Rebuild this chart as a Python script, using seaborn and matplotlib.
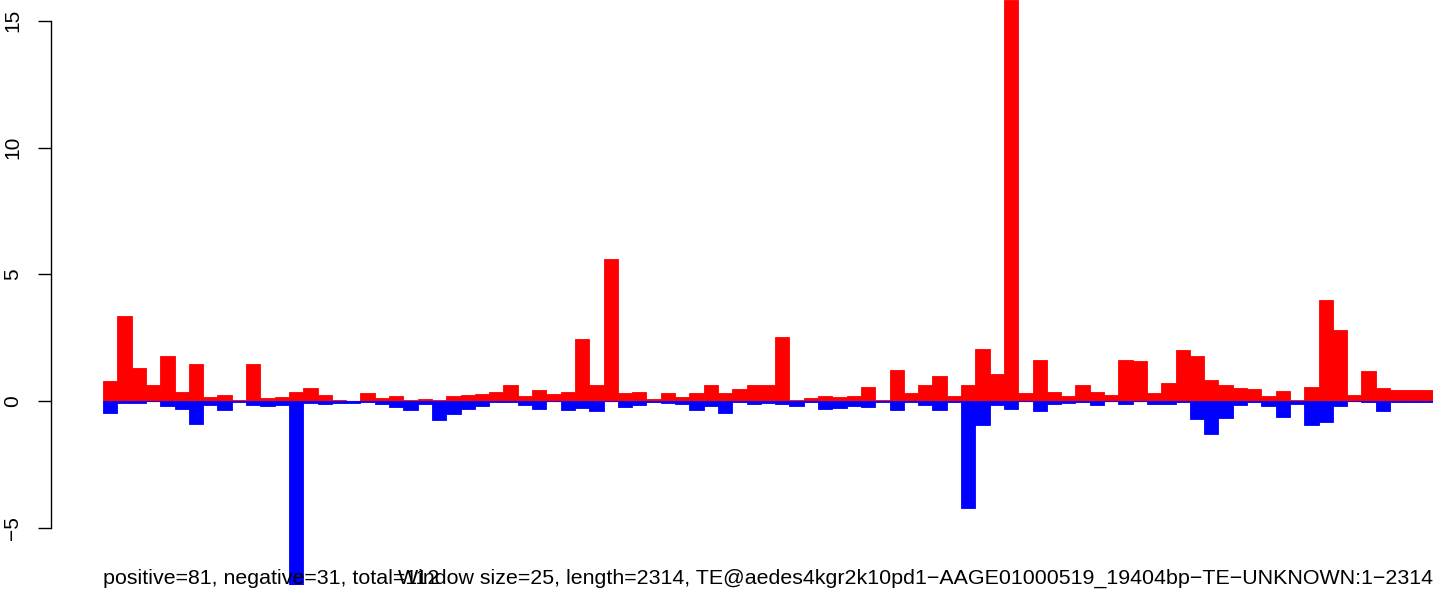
# Positive / negative window coverage along a TE (R-style barplot look)
import numpy as np
import pandas as pd
import matplotlib
matplotlib.use("Agg")
import matplotlib.pyplot as plt
import seaborn as sns

# ------------------------------
# Data (one value per 25bp window)
# ------------------------------
pos = [0.79, 3.35, 1.30, 0.63, 1.78, 0.36, 1.46, 0.16, 0.24, 0.04, 1.46, 0.12, 0.16, 0.36, 0.51, 0.24,
       0.04, 0.00, 0.32, 0.12, 0.20, 0.04, 0.08, 0.04, 0.20, 0.24, 0.28, 0.36, 0.63, 0.20, 0.43, 0.28,
       0.36, 2.45, 0.63, 5.60, 0.32, 0.36, 0.08, 0.32, 0.16, 0.32, 0.63, 0.32, 0.47, 0.63, 0.63, 2.52,
       0.04, 0.12, 0.20, 0.16, 0.20, 0.55, 0.04, 1.22, 0.32, 0.63, 0.99, 0.20, 0.63, 2.05, 1.07, 15.82,
       0.32, 1.62, 0.36, 0.20, 0.63, 0.36, 0.24, 1.62, 1.58, 0.32, 0.71, 2.01, 1.78, 0.83, 0.63, 0.51,
       0.47, 0.20, 0.39, 0.04, 0.55, 3.98, 2.80, 0.24, 1.18, 0.51, 0.43, 0.43, 0.43]
neg = [-0.46, -0.08, -0.08, 0.00, -0.20, -0.30, -0.91, -0.16, -0.36, -0.04, -0.16, -0.20, -0.16, -7.26, -0.08, -0.12,
       -0.08, -0.08, -0.03, -0.12, -0.24, -0.36, -0.12, -0.75, -0.51, -0.32, -0.20, -0.04, -0.04, -0.16, -0.32, 0.00,
       -0.36, -0.28, -0.39, 0.00, -0.24, -0.16, -0.04, -0.08, -0.12, -0.36, -0.20, -0.47, -0.04, -0.12, -0.08, -0.12,
       -0.20, -0.04, -0.32, -0.28, -0.20, -0.24, -0.04, -0.36, -0.04, -0.16, -0.36, -0.04, -4.22, -0.95, -0.16, -0.32,
       0.00, -0.39, -0.12, -0.08, -0.04, -0.16, 0.00, -0.12, 0.00, -0.12, -0.12, -0.04, -0.71, -1.30, -0.67, -0.16,
       -0.03, -0.20, -0.63, -0.12, -0.95, -0.83, -0.20, 0.00, -0.04, -0.39, -0.04, -0.04, -0.04]
yticks = [-5, 0, 5, 10, 15]
left_label = "positive=81, negative=31, total=112"
right_label = "Window size=25, length=2314, TE@aedes4kgr2k10pd1\u2212AAGE01000519_19404bp\u2212TE\u2212UNKNOWN:1\u22122314"

data = pd.DataFrame({"window": np.arange(len(pos)), "pos": pos, "neg": neg})

# ------------------------------
# Plot
# ------------------------------
sns.set_style("white")
plt.rcParams["font.family"] = ["Liberation Sans", "DejaVu Sans"]

fig = plt.figure(figsize=(14.33, 5.9), dpi=100)
ax = fig.add_axes([51 / 1433, 5 / 590, 1382 / 1433, 585 / 590])

# faint zero line only under the bars
ax.hlines(0, -0.5, len(pos) - 0.5, color="#b0b0b0", lw=1, zorder=0)
sns.barplot(data=data, x="window", y="pos", color="#ff0000", width=1, saturation=1,
            linewidth=0.6, edgecolor="#ff0000", errorbar=None, ax=ax)
sns.barplot(data=data, x="window", y="neg", color="#0000ff", width=1, saturation=1,
            linewidth=0.6, edgecolor="#0000ff", errorbar=None, ax=ax)

ax.set_xlim(-0.5 - 52 / 14.3, len(pos) - 0.5)
ax.set_ylim(-7.26, 15.82)
ax.set_xlabel("")
ax.set_ylabel("")
ax.set_xticks([])
ax.set_yticks(yticks)
ax.set_yticklabels([str(t).replace("-", "\u2212") for t in yticks], rotation=90, va="center",
                   fontsize=15, color="black")

for s in ["top", "right", "bottom"]:
    ax.spines[s].set_visible(False)
ax.spines["left"].set_bounds(-5, 15)
ax.spines["left"].set_linewidth(1)
ax.spines["left"].set_color("black")
ax.tick_params(axis="y", direction="out", length=9.6, width=1, pad=11, left=True, color="black")

# the two footer texts overlap in the original as well
fig.text(103 / 1433, 6 / 590, left_label, ha="left", va="baseline", fontsize=15.4, color="black")
fig.text(1, 6 / 590, right_label, ha="right", va="baseline", fontsize=15.4, color="black")

plt.savefig("out.png", dpi=100)
